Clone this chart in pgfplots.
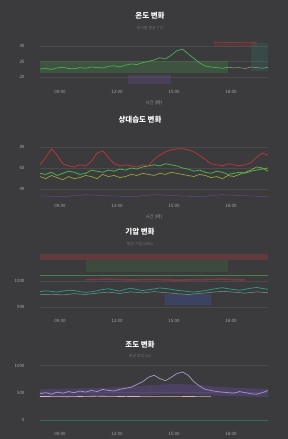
\documentclass[border=0pt]{standalone}
\usepackage{pgfplots}
\pgfplotsset{compat=1.18}
\usepackage{fontspec}
\setmainfont{Noto Sans CJK KR}
\definecolor{bg}{HTML}{3B3B3D}
\definecolor{gridc}{HTML}{4A4A4D}
\definecolor{tickc}{HTML}{A8A8A8}
\definecolor{cgreen}{HTML}{4CAF50}
\definecolor{cred}{HTML}{C8363A}
\definecolor{cyellow}{HTML}{A8B43A}
\definecolor{cpurple}{HTML}{6E4FA8}
\definecolor{clav}{HTML}{A899CC}
\definecolor{cteal}{HTML}{2E9E86}
\definecolor{cblue}{HTML}{4052A8}
\definecolor{cmaroon}{HTML}{8E3A48}
\begin{document}
\begin{tikzpicture}
\fill[bg] (0,0) rectangle (288bp,-439bp);
\pgfplotsset{panel/.style={
  scale only axis, width=228bp, anchor=north west,
  xmin=0, xmax=40,
  axis line style={draw=none}, major tick length=0pt,
  tick label style={font=\fontsize{4.5}{5}\selectfont, text=tickc},
  /pgf/number format/assume math mode=true,
  /pgf/number format/1000 sep={},
  xtick={3.5,13.5,23.5,33.5}, xticklabels={09:00,12:00,15:00,18:00},
  ymajorgrids, grid style={gridc, line width=0.3pt},
  yticklabel style={xshift=-12bp},
  xticklabel style={yshift=-1bp},
  xlabel style={font=\fontsize{4.5}{5}\selectfont, text=tickc!80!bg},
}}
% ---------- Panel 1 ----------
\node[text=white, font=\bfseries\fontsize{7.5}{8}\selectfont] at (150bp,-16bp) {온도 변화};
\node[text=tickc!50!bg, font=\fontsize{4}{5}\selectfont] at (150bp,-28bp) {센서별 평균 (°C)};
\begin{axis}[panel, at={(40bp,-40bp)}, height=46bp, ymin=17, ymax=32, ytick={20,25,30},
  xlabel={시간 (時)}]
\addplot[draw=none, fill=cgreen, fill opacity=0.22] coordinates {(0,21.4)(33,21.4)(33,25.3)(0,25.3)} -- cycle;
\addplot[draw=none, fill=cred, fill opacity=0.15] coordinates {(30.5,29.6)(38,29.6)(38,31.6)(30.5,31.6)} -- cycle;
\addplot[draw=none, fill=cpurple, fill opacity=0.25] coordinates {(15.5,17.5)(23,17.5)(23,20.6)(15.5,20.6)} -- cycle;
\addplot[draw=none, fill=cteal, fill opacity=0.15] coordinates {(37,22)(40,22)(40,31)(37,31)} -- cycle;
\addplot[cred!70!bg, line width=0.4pt] coordinates {(30.5,31.2)(32,31.3)(34,31.1)(36,31.3)(38,31.2)};
\addplot[cgreen, line width=0.7pt] coordinates {
(0,22.5)(1,22.8)(2,22.4)(3,22.9)(4,23.1)(5,22.7)(6,22.6)(7,23.0)(8,22.8)(9,23.2)
(10,23.0)(11,22.9)(12,23.4)(13,23.6)(14,23.2)(15,23.8)(16,24.2)(17,24.0)(18,24.6)(19,25.0)
(20,25.5)(21,26.2)(22,25.8)(23,27.0)(24,28.5)(25,29.0)(26,27.5)(27,26.0)(28,24.5)(29,23.5)
(30,23.2)(31,23.0)(32,22.8)(33,23.1)};
\addplot[cgreen!40!tickc, line width=0.5pt] coordinates {
(33,23.1)(34,22.9)(35,23.0)(36,22.7)(37,23.2)(38,23.0)(39,22.8)(40,23.1)};
\end{axis}
% ---------- Panel 2 ----------
\node[text=white, font=\bfseries\fontsize{7.5}{8}\selectfont] at (140bp,-120bp) {상대습도 변화};
\begin{axis}[panel, at={(40bp,-136bp)}, height=64bp, ymin=30, ymax=90, ytick={40,60,80},
  xlabel={시간 (時)}]
\addplot[cpurple!70!bg, line width=0.5pt] coordinates {
(0,34)(4,33)(8,35)(12,34)(16,33)(20,35)(24,34)(28,33)(32,35)(36,34)(40,33)};
\addplot[cyellow, line width=0.7pt, opacity=0.85] coordinates {
(0,52)(1,50)(2,53)(3,51)(4,49)(5,52)(6,50)(7,51)(8,53)(9,52)
(10,50)(11,54)(12,52)(13,53)(14,51)(15,52)(16,54)(17,53)(18,55)(19,54)
(20,53)(21,55)(22,54)(23,56)(24,55)(25,54)(26,53)(27,52)(28,54)(29,53)
(30,51)(31,52)(32,50)(33,53)(34,52)(35,54)(36,56)(37,58)(38,61)(39,60)(40,57)};
\addplot[cgreen, line width=0.8pt] coordinates {
(0,55)(1,54)(2,56)(3,53)(4,55)(5,57)(6,56)(7,54)(8,55)(9,58)
(10,57)(11,56)(12,58)(13,57)(14,59)(15,58)(16,60)(17,59)(18,61)(19,62)
(20,63)(21,62)(22,64)(23,63)(24,62)(25,60)(26,59)(27,57)(28,58)(29,56)
(30,55)(31,57)(32,56)(33,54)(34,55)(35,56)(36,55)(37,57)(38,58)(39,59)(40,60)};
\addplot[cred, line width=0.8pt, opacity=0.85] coordinates {
(0,63)(1,70)(2,78)(3,72)(4,64)(5,62)(6,61)(7,63)(8,62)(9,66)
(10,74)(11,76)(12,70)(13,64)(14,62)(15,63)(16,62)(17,61)(18,63)(19,62)
(20,68)(21,72)(22,75)(23,77)(24,78)(25,78)(26,77)(27,75)(28,72)(29,68)
(30,64)(31,63)(32,62)(33,64)(34,63)(35,62)(36,63)(37,65)(38,70)(39,74)(40,72)};
\end{axis}
% ---------- Panel 3 ----------
\node[text=white, font=\bfseries\fontsize{7.5}{8}\selectfont] at (140bp,-232bp) {기압 변화};
\node[text=tickc!50!bg, font=\fontsize{4}{5}\selectfont] at (140bp,-244bp) {평균 기압 (hPa)};
\begin{axis}[panel, at={(40bp,-250bp)}, height=65bp, ymin=987, ymax=1012, ytick={990,1000}]
\addplot[draw=none, fill=cred, fill opacity=0.28] coordinates {(0,1008.3)(40,1008.3)(40,1010.6)(0,1010.6)} -- cycle;
\addplot[draw=none, fill=cgreen, fill opacity=0.14] coordinates {(8,1003.6)(33,1003.6)(33,1008.3)(8,1008.3)} -- cycle;
\addplot[draw=none, fill=cblue, fill opacity=0.35] coordinates {(22,991)(30,991)(30,995)(22,995)} -- cycle;
\addplot[cmaroon, line width=1.6pt, opacity=0.8] coordinates {
(8,1000.6)(12,1000.8)(16,1000.5)(20,1000.7)(24,1000.4)(28,1000.6)(32,1000.8)(36,1000.5)};
\addplot[cgreen!60!bg, line width=0.4pt] coordinates {(0,1002.5)(40,1002.5)};
\addplot[cteal, line width=0.7pt] coordinates {
(0,996.0)(1,996.3)(2,996.1)(3,995.8)(4,996.2)(5,996.5)(6,996.4)(7,996.0)(8,995.7)(9,995.9)
(10,996.3)(11,996.8)(12,997.1)(13,996.6)(14,996.2)(15,996.9)(16,997.3)(17,996.8)(18,996.4)(19,996.7)
(20,997.0)(21,997.4)(22,997.2)(23,996.9)(24,996.5)(25,996.3)(26,996.0)(27,995.8)(28,996.1)(29,996.4)
(30,996.8)(31,997.2)(32,997.5)(33,997.1)(34,996.8)(35,996.5)(36,996.9)(37,997.3)(38,997.6)(39,997.2)(40,996.9)};
\addplot[cteal!60!white, line width=0.5pt, opacity=0.7] coordinates {
(0,994.8)(2,995.0)(4,994.7)(6,995.2)(8,994.9)(10,995.4)(12,995.8)(14,995.3)(16,995.9)(18,995.5)
(20,996.0)(22,995.6)(24,995.2)(26,994.9)(28,995.3)(30,995.7)(32,996.1)(34,995.8)(36,995.4)(38,995.9)(40,995.6)};
\end{axis}
% ---------- Panel 4 ----------
\node[text=white, font=\bfseries\fontsize{7.5}{8}\selectfont] at (140bp,-345bp) {조도 변화};
\node[text=tickc!50!bg, font=\fontsize{4}{5}\selectfont] at (140bp,-356bp) {평균 조도 (lx)};
\begin{axis}[panel, at={(40bp,-360bp)}, height=68bp, ymin=-150, ymax=1100, ytick={0,500,1000}]
\addplot[cteal!50!bg, line width=0.6pt] coordinates {(0,0)(40,0)};
\addplot[draw=none, fill=cpurple, fill opacity=0.35] coordinates {
(0,560)(4,570)(8,580)(12,590)(16,610)(20,640)(24,660)(28,640)(32,600)(36,580)(40,570)
(40,420)(36,430)(32,440)(28,460)(24,470)(20,460)(16,440)(12,430)(8,420)(4,415)(0,420)} -- cycle;
\addplot[clav, line width=0.7pt] coordinates {
(0,480)(1,500)(2,470)(3,510)(4,490)(5,520)(6,500)(7,530)(8,510)(9,540)
(10,520)(11,560)(12,540)(13,530)(14,560)(15,580)(16,600)(17,650)(18,700)(19,780)
(20,820)(21,760)(22,720)(23,780)(24,850)(25,880)(26,820)(27,700)(28,620)(29,560)
(30,540)(31,520)(32,510)(33,500)(34,490)(35,520)(36,500)(37,480)(38,470)(39,500)(40,540)};
\addplot[pink!70!white, line width=0.6pt, opacity=0.8] coordinates {
(0,430)(5,425)(10,435)(15,428)(20,432)(25,430)(30,426)};
\end{axis}
\pgfresetboundingbox
\path (0,0) rectangle (288bp,-439bp);
\end{tikzpicture}
\end{document}
